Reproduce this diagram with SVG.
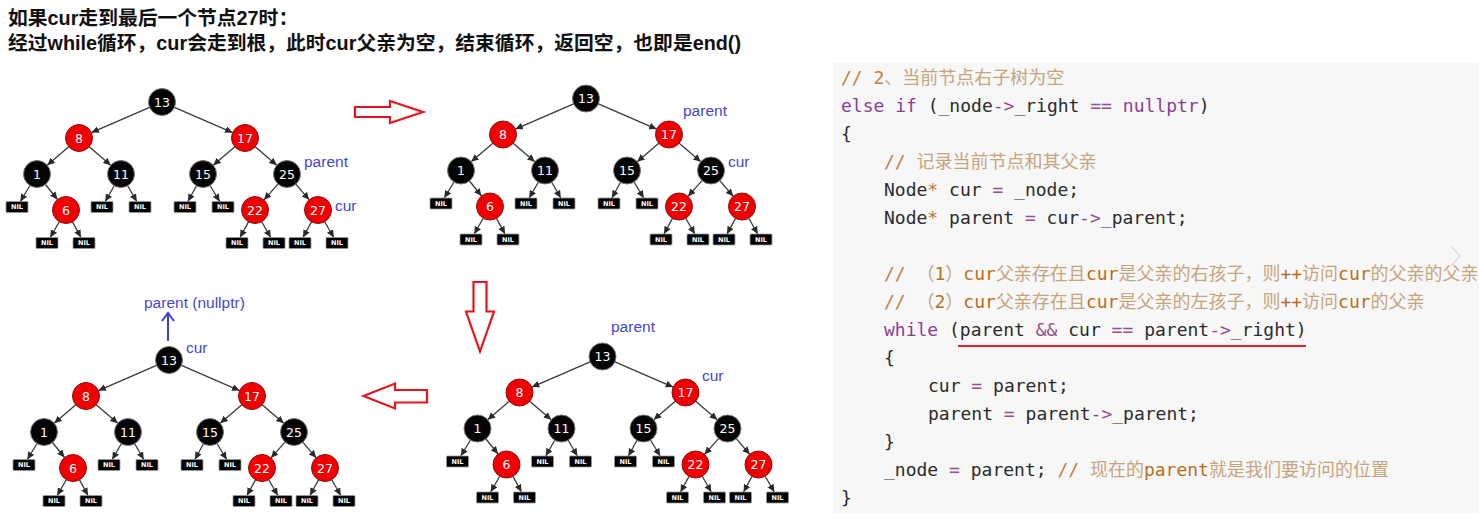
<svg xmlns="http://www.w3.org/2000/svg" width="1479" height="516" viewBox="0 0 1479 516">
<style>
.title{font-family:"Liberation Sans","Noto Sans CJK SC",sans-serif;font-size:19.8px;font-weight:bold;fill:#111}
.edge line{stroke:#3a3a3a;stroke-width:1.3;marker-end:url(#ah)}
.bn circle{fill:#050505;stroke:#777;stroke-width:1}
.rn circle{fill:#f00000;stroke:#8a1010;stroke-width:1}
.bn text,.rn text{font-family:"DejaVu Sans",sans-serif;font-size:12.5px;fill:#fff;text-anchor:middle}
.nil rect{fill:#000;stroke:#999;stroke-width:0.8}
.nil text{font-family:"DejaVu Sans",sans-serif;font-size:6.5px;font-weight:bold;fill:#fff;text-anchor:middle}
.lbl{font-family:"Liberation Sans",sans-serif;font-size:15.5px;fill:#4646d8}
.blk{fill:#fff;stroke:#e8141c;stroke-width:2.2;stroke-linejoin:miter}
.code{font-family:"DejaVu Sans Mono","Noto Sans CJK SC",monospace;font-size:18px;fill:#2b2b2b}
.kw{fill:#8a3d98}
.op{fill:#94508c}
.st{fill:#c07a34}
.cm{fill:#c08040}
.cz{fill:#c6a47c}
.cl{fill:#b86e1c}
</style>
<defs>
<marker id="ah" markerUnits="userSpaceOnUse" markerWidth="8" markerHeight="8" refX="7.5" refY="3.5" orient="auto">
<path d="M0,0 L7.5,3.5 L0,7 Z" fill="#2a2a2a"/>
</marker>
<marker id="bah" markerUnits="userSpaceOnUse" markerWidth="14" markerHeight="14" refX="10" refY="7" orient="auto">
<path d="M2,1 L10,7 L2,13" fill="none" stroke="#3c3cd6" stroke-width="2"/>
</marker>
<g id="rbtree">
<g id="tree-edges" class="edge">
<line x1="-12.4" y1="5.4" x2="-70.6" y2="30.6"/>
<line x1="12.4" y1="5.4" x2="70.6" y2="30.6"/>
<line x1="-93.2" y1="44.8" x2="-114.8" y2="63.2"/>
<line x1="-72.8" y1="44.8" x2="-51.2" y2="63.2"/>
<line x1="72.8" y1="44.8" x2="51.2" y2="63.2"/>
<line x1="93.2" y1="44.8" x2="114.8" y2="63.2"/>
<line x1="-132" y1="83.5" x2="-141.7" y2="99.5"/>
<line x1="-116.5" y1="82.5" x2="-104.5" y2="97.5"/>
<line x1="-47.7" y1="83.7" x2="-56.8" y2="99.5"/>
<line x1="-34.3" y1="83.7" x2="-25.2" y2="99.5"/>
<line x1="34.5" y1="83.8" x2="25.9" y2="99.5"/>
<line x1="48" y1="83.5" x2="57.7" y2="99.5"/>
<line x1="116" y1="82.1" x2="102" y2="97.9"/>
<line x1="133.8" y1="82.2" x2="147.2" y2="97.8"/>
<line x1="-102.7" y1="119.7" x2="-111.8" y2="135.5"/>
<line x1="-89.5" y1="119.9" x2="-81" y2="135.5"/>
<line x1="86.5" y1="119.9" x2="78" y2="135.5"/>
<line x1="99.7" y1="119.7" x2="108.8" y2="135.5"/>
<line x1="149.5" y1="119.9" x2="141" y2="135.5"/>
<line x1="162.7" y1="119.7" x2="171.8" y2="135.5"/>
</g>
<g id="n13" class="bn"><circle cx="0" cy="0" r="13.5"/><text x="0" y="4.5">13</text></g>
<g id="n8" class="rn"><circle cx="-83" cy="36" r="13.5"/><text x="-83" y="40.5">8</text></g>
<g id="n17" class="rn"><circle cx="83" cy="36" r="13.5"/><text x="83" y="40.5">17</text></g>
<g id="n1" class="bn"><circle cx="-125" cy="72" r="13.5"/><text x="-125" y="76.5">1</text></g>
<g id="n11" class="bn"><circle cx="-41" cy="72" r="13.5"/><text x="-41" y="76.5">11</text></g>
<g id="n15" class="bn"><circle cx="41" cy="72" r="13.5"/><text x="41" y="76.5">15</text></g>
<g id="n25" class="bn"><circle cx="125" cy="72" r="13.5"/><text x="125" y="76.5">25</text></g>
<g id="n6" class="rn"><circle cx="-96" cy="108" r="13.5"/><text x="-96" y="112.5">6</text></g>
<g id="n22" class="rn"><circle cx="93" cy="108" r="13.5"/><text x="93" y="112.5">22</text></g>
<g id="n27" class="rn"><circle cx="156" cy="108" r="13.5"/><text x="156" y="112.5">27</text></g>
<g id="nil-1l" class="nil"><rect x="-156" y="99.5" width="22" height="11" rx="1"/><text x="-145" y="107.3">NIL</text></g>
<g id="nil-11l" class="nil"><rect x="-71" y="99.5" width="22" height="11" rx="1"/><text x="-60" y="107.3">NIL</text></g>
<g id="nil-11r" class="nil"><rect x="-33" y="99.5" width="22" height="11" rx="1"/><text x="-22" y="107.3">NIL</text></g>
<g id="nil-15l" class="nil"><rect x="12" y="99.5" width="22" height="11" rx="1"/><text x="23" y="107.3">NIL</text></g>
<g id="nil-15r" class="nil"><rect x="50" y="99.5" width="22" height="11" rx="1"/><text x="61" y="107.3">NIL</text></g>
<g id="nil-6l" class="nil"><rect x="-126" y="135.5" width="22" height="11" rx="1"/><text x="-115" y="143.3">NIL</text></g>
<g id="nil-6r" class="nil"><rect x="-89" y="135.5" width="22" height="11" rx="1"/><text x="-78" y="143.3">NIL</text></g>
<g id="nil-22l" class="nil"><rect x="64" y="135.5" width="22" height="11" rx="1"/><text x="75" y="143.3">NIL</text></g>
<g id="nil-22r" class="nil"><rect x="101" y="135.5" width="22" height="11" rx="1"/><text x="112" y="143.3">NIL</text></g>
<g id="nil-27l" class="nil"><rect x="127" y="135.5" width="22" height="11" rx="1"/><text x="138" y="143.3">NIL</text></g>
<g id="nil-27r" class="nil"><rect x="164" y="135.5" width="22" height="11" rx="1"/><text x="175" y="143.3">NIL</text></g>
</g>
</defs>
<rect width="1479" height="516" fill="#fff"/>
<g id="title">
<text class="title" x="8" y="25">如果cur走到最后一个节点27时：</text>
<text class="title" x="8" y="50">经过while循环，cur会走到根，此时cur父亲为空，结束循环，返回空，也即是end()</text>
</g>
<g id="treeA">
<use href="#rbtree" transform="translate(162,102)"/>
<text class="lbl" x="304" y="167">parent</text>
<text class="lbl" x="335" y="211">cur</text>
</g>
<g id="treeB">
<use href="#rbtree" transform="translate(586,98.5)"/>
<text class="lbl" x="683" y="116">parent</text>
<text class="lbl" x="728" y="167">cur</text>
</g>
<g id="treeC">
<use href="#rbtree" transform="translate(169,360)"/>
<text class="lbl" x="144" y="308">parent (nullptr)</text>
<line x1="168" y1="341" x2="168" y2="313" stroke="#3c3cd6" stroke-width="2" marker-end="url(#bah)"/>
<text class="lbl" x="186" y="353">cur</text>
</g>
<g id="treeD">
<use href="#rbtree" transform="translate(602.5,356.5)"/>
<text class="lbl" x="611" y="332">parent</text>
<text class="lbl" x="702" y="381">cur</text>
</g>
<g id="step-arrows">
<polygon class="blk" points="355,107 390,107 390,101 423,112 390,123 390,117 355,117"/>
<polygon class="blk" points="473.5,282 486.5,282 486.5,311.5 494,311.5 480,351.5 466,311.5 473.5,311.5"/>
<polygon class="blk" points="427,390 395,390 395,383.5 363.5,396 395,408.5 395,402.5 427,402.5"/>
</g>
<g id="code-panel">
<rect x="833" y="63" width="646" height="450" fill="#f7f7f7"/>
<text class="code" xml:space="preserve" x="841" y="84"><tspan class="cm">// 2</tspan><tspan class="cz">、当前节点右子树为空</tspan></text>
<text class="code" xml:space="preserve" x="841" y="112"><tspan class="kw">else if</tspan> (_node<tspan class="op">-&gt;</tspan>_right <tspan class="op">==</tspan> <tspan class="kw">nullptr</tspan>)</text>
<text class="code" x="841" y="140">{</text>
<text class="code" xml:space="preserve" x="884" y="168"><tspan class="cm">// </tspan><tspan class="cz">记录当前节点和其父亲</tspan></text>
<text class="code" xml:space="preserve" x="884" y="196">Node<tspan class="st">*</tspan> cur <tspan class="op">=</tspan> _node;</text>
<text class="code" xml:space="preserve" x="884" y="224">Node<tspan class="st">*</tspan> parent <tspan class="op">=</tspan> cur<tspan class="op">-&gt;</tspan>_parent;</text>
<text class="code" xml:space="preserve" x="884" y="280"><tspan class="cm">// </tspan><tspan class="cz">（</tspan><tspan class="cl">1</tspan><tspan class="cz">）</tspan><tspan class="cl">cur</tspan><tspan class="cz">父亲存在且</tspan><tspan class="cl">cur</tspan><tspan class="cz">是父亲的右孩子，则</tspan><tspan class="cl">++</tspan><tspan class="cz">访问</tspan><tspan class="cl">cur</tspan><tspan class="cz">的父亲的父亲</tspan></text>
<text class="code" xml:space="preserve" x="884" y="308"><tspan class="cm">// </tspan><tspan class="cz">（</tspan><tspan class="cl">2</tspan><tspan class="cz">）</tspan><tspan class="cl">cur</tspan><tspan class="cz">父亲存在且</tspan><tspan class="cl">cur</tspan><tspan class="cz">是父亲的左孩子，则</tspan><tspan class="cl">++</tspan><tspan class="cz">访问</tspan><tspan class="cl">cur</tspan><tspan class="cz">的父亲</tspan></text>
<text class="code" xml:space="preserve" x="884" y="336"><tspan class="kw">while</tspan> (parent <tspan class="op">&amp;&amp;</tspan> cur <tspan class="op">==</tspan> parent<tspan class="op">-&gt;</tspan>_right)</text>
<line x1="958" y1="346" x2="1306" y2="346" stroke="#e8202a" stroke-width="2.2"/>
<text class="code" x="884" y="364">{</text>
<text class="code" xml:space="preserve" x="928" y="392">cur <tspan class="op">=</tspan> parent;</text>
<text class="code" xml:space="preserve" x="928" y="420">parent <tspan class="op">=</tspan> parent<tspan class="op">-&gt;</tspan>_parent;</text>
<text class="code" x="884" y="448">}</text>
<text class="code" xml:space="preserve" x="884" y="476">_node <tspan class="op">=</tspan> parent; <tspan class="cm">// </tspan><tspan class="cz">现在的</tspan><tspan class="cl">parent</tspan><tspan class="cz">就是我们要访问的位置</tspan></text>
<text class="code" x="841" y="504">}</text>
<polyline points="1451,246 1460,256 1451,266" fill="none" stroke="#dcdcdc" stroke-width="1.5"/>
</g>
</svg>
